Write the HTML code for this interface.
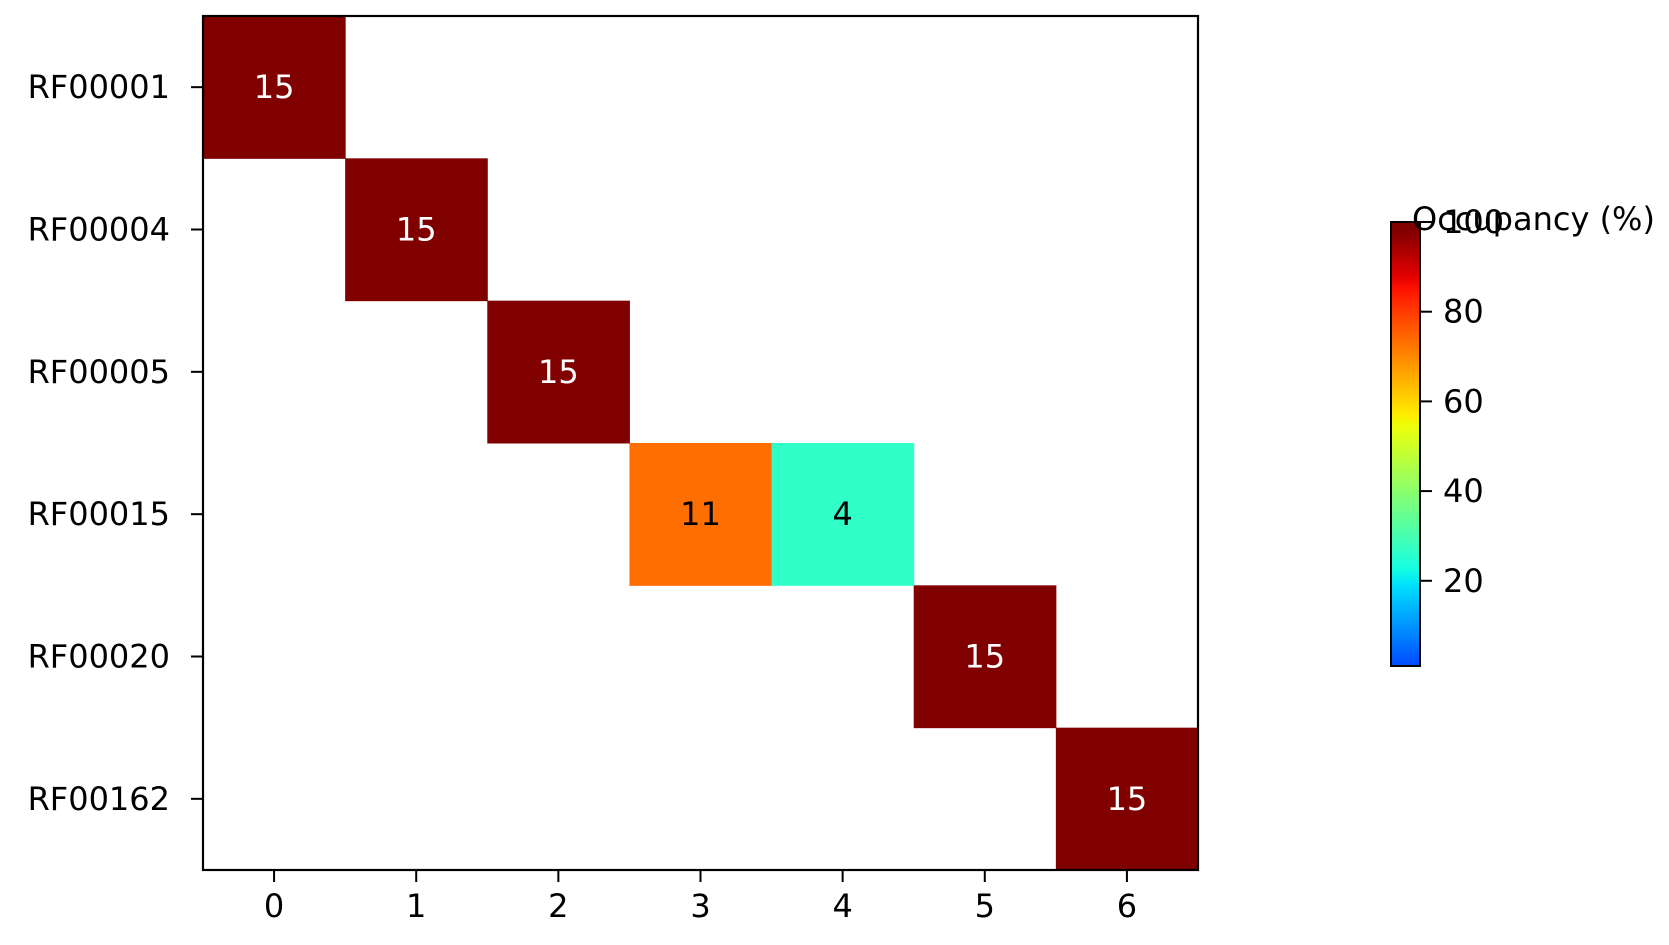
<!DOCTYPE html>
<html><head><meta charset="utf-8"><style>
body{margin:0;background:#fff}
svg text{font-family:"DejaVu Sans","Liberation Sans",sans-serif;font-size:32px}
</style></head><body>
<svg id="c" width="1669" height="940" xmlns="http://www.w3.org/2000/svg">
<defs><linearGradient id="jet" x1="0" y1="1" x2="0" y2="0"></linearGradient></defs>
</svg>
<script>
const rows=["RF00001","RF00004","RF00005","RF00015","RF00020","RF00162"];
const cols=["0","1","2","3","4","5","6"];
const cellRow=[0,1,2,3,3,4,5];
const cellCol=[0,1,2,3,4,5,6];
const cellCount=[15,15,15,11,4,15,15];
const cellPct=[100,100,100,73.3,26.7,100,100];
const cbTicks=[20,40,60,80,100];
const NS="http://www.w3.org/2000/svg";
const svg=document.getElementById('c');
const L=203,T=16,R=1198,B=870;
const cw=(R-L)/cols.length,ch=(B-T)/rows.length;
const xC=i=>L+cw*(i+0.5), yC=j=>T+ch*(j+0.5);
const vmin=1,vmax=100,cbT=222,cbB=666,cbL=1391,cbR=1420;
const cbY=v=>cbB-(v-vmin)/(vmax-vmin)*(cbB-cbT);
function cmapT(p){return Math.min(1,0.188+0.826*Math.max(0,p/100));}
const JR=[[0,0],[0.35,0],[0.66,1],[0.89,1],[1,0.5]];
const JG=[[0,0],[0.125,0],[0.375,1],[0.64,1],[0.91,0],[1,0]];
const JB=[[0,0.5],[0.11,1],[0.34,1],[0.65,0],[1,0]];
function seg(s,t){for(let i=1;i<s.length;i++){if(t<=s[i][0]){const a=s[i-1],b=s[i];return a[1]+(b[1]-a[1])*(t-a[0])/(b[0]-a[0]);}}return s[s.length-1][1];}
function jet(t){const c=x=>Math.round(255*Math.max(0,Math.min(1,x)));
return `rgb(${c(seg(JR,t))},${c(seg(JG,t))},${c(seg(JB,t))})`;}
function mk(tag,a,p){const e=document.createElementNS(NS,tag);for(const k in a)e.setAttribute(k,a[k]);(p||svg).appendChild(e);return e;}
const g=svg.querySelector('#jet');
for(let i=0;i<=60;i++){const p=vmin+(vmax-vmin)*i/60;mk('stop',{offset:i/60,'stop-color':jet(cmapT(p))},g);}
for(let k=0;k<cellCount.length;k++){
 const t=cmapT(cellPct[k]);
 const r=mk('rect',{x:L+cw*cellCol[k],y:T+ch*cellRow[k],width:cw+0.5,height:ch+0.5,fill:jet(t)});
 
 
 const tx=mk('text',{x:xC(cellCol[k]),y:yC(cellRow[k])+11,'text-anchor':'middle',fill:(t>0.9)?'#fff':'#000'});
 tx.textContent=cellCount[k];
 
 
}
const fr=mk('rect',{x:L,y:T,width:R-L,height:B-T,fill:'none',stroke:'#000','stroke-width':2.2});


rows.forEach((r,j)=>{
 mk('line',{x1:L-12,x2:L,y1:yC(j),y2:yC(j),stroke:'#000','stroke-width':2});
 const t=mk('text',{x:L-33,y:yC(j)+11,'text-anchor':'end'});t.textContent=r;
 
 
});
cols.forEach((c,i)=>{
 mk('line',{x1:xC(i),x2:xC(i),y1:B,y2:B+12,stroke:'#000','stroke-width':2});
 const t=mk('text',{x:xC(i),y:917,'text-anchor':'middle'});t.textContent=c;
 
 
});
const cb=mk('rect',{x:cbL,y:cbT,width:cbR-cbL,height:cbB-cbT,fill:'url(#jet)',stroke:'#000','stroke-width':2});


cbTicks.forEach(v=>{
 mk('line',{x1:cbR,x2:cbR+12,y1:cbY(v),y2:cbY(v),stroke:'#000','stroke-width':2});
 const t=mk('text',{x:1443,y:cbY(v)+11});t.textContent=v;
 
 
});
const lb=mk('text',{x:1412,y:230});lb.textContent='Occupancy (%)';


</script>
</body></html>
